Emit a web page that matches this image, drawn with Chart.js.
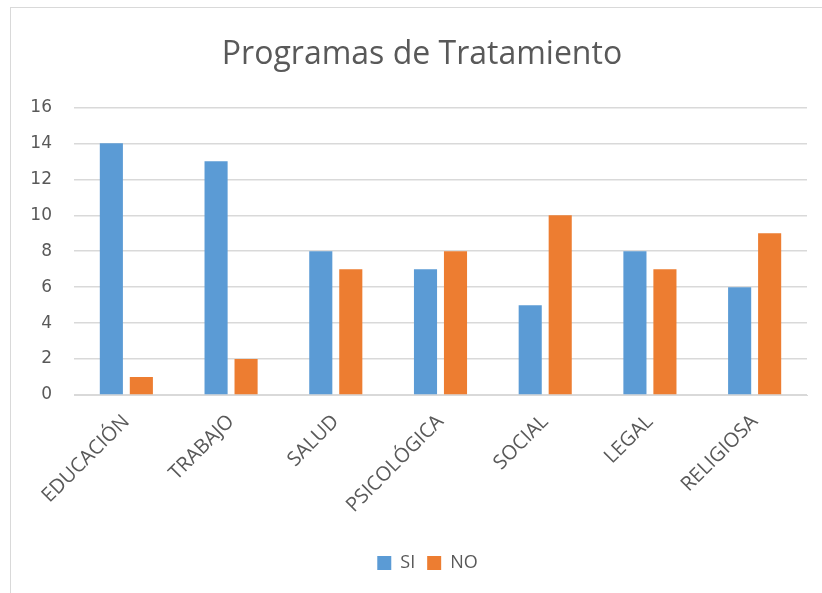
<!DOCTYPE html>
<html>
<head>
<meta charset="utf-8">
<script src="https://cdn.jsdelivr.net/npm/chart.js@4/dist/chart.umd.min.js"></script>
<style>
html,body{margin:0;padding:0;background:#fff;overflow:hidden;}
#wrap{position:relative;width:822px;height:593px;}
#frame{position:absolute;left:10px;top:7px;width:840px;height:620px;border:1px solid #d9d9d9;box-sizing:border-box;}
canvas{position:absolute;left:0;top:0;}
</style>
</head>
<body>
<div id="wrap">
<div id="frame"></div>
<canvas id="c" width="822" height="593"></canvas>
</div>
<script>
const categories = ["EDUCACIÓN","TRABAJO","SALUD","PSICOLÓGICA","SOCIAL","LEGAL","RELIGIOSA"];
const siValues = [14,13,8,7,5,8,6];
const noValues = [1,2,7,8,10,7,9];
const seriesNames = ["SI","NO"];
const chartTitle = "Programas de Tratamiento";

const FONT = "'Open Sans', 'Liberation Sans', sans-serif";
const TICKFONT = "'DejaVu Sans', sans-serif";
const GRAY = "#595959";

// shift the title and legend boxes so they are centred as in the original frame
const boxShift = {
  id: 'boxShift',
  afterLayout(chart) {
    if (chart.titleBlock) { chart.titleBlock.left = 37; }
    if (chart.legend) { chart.legend.left = 48; }
  }
};

new Chart(document.getElementById('c'), {
  type: 'bar',
  data: {
    labels: categories,
    datasets: [
      {label: seriesNames[0], data: siValues, backgroundColor: '#5B9BD5', categoryPercentage: 0.573, barPercentage: 0.77},
      {label: seriesNames[1], data: noValues, backgroundColor: '#ED7D31', categoryPercentage: 0.573, barPercentage: 0.77}
    ]
  },
  plugins: [boxShift],
  options: {
    responsive: false,
    animation: false,
    layout: {padding: {left: 15, right: 15, top: 0, bottom: 11}},
    plugins: {
      title: {display: true, text: chartTitle, color: GRAY,
        font: {family: FONT, size: 32, weight: 'normal'}, padding: {top: 36, bottom: 33}},
      legend: {position: 'bottom',
        labels: {color: GRAY, boxWidth: 14, boxHeight: 14, padding: 12,
          font: {family: FONT, size: 18}}},
      tooltip: {enabled: false}
    },
    scales: {
      x: {
        grid: {display: false},
        border: {color: '#d9d9d9'},
        ticks: {color: GRAY, font: {family: FONT, size: 20}, maxRotation: 45, minRotation: 45, padding: 7},
        afterFit: s => { s.height = 147; }
      },
      y: {
        min: 0, max: 16,
        ticks: {stepSize: 2, color: GRAY, font: {family: TICKFONT, size: 17}, padding: 22},
        grid: {color: '#d9d9d9', lineWidth: 1.5, drawTicks: false},
        border: {display: false},
        afterFit: s => { s.width = 59; }
      }
    }
  }
});
</script>
</body>
</html>
